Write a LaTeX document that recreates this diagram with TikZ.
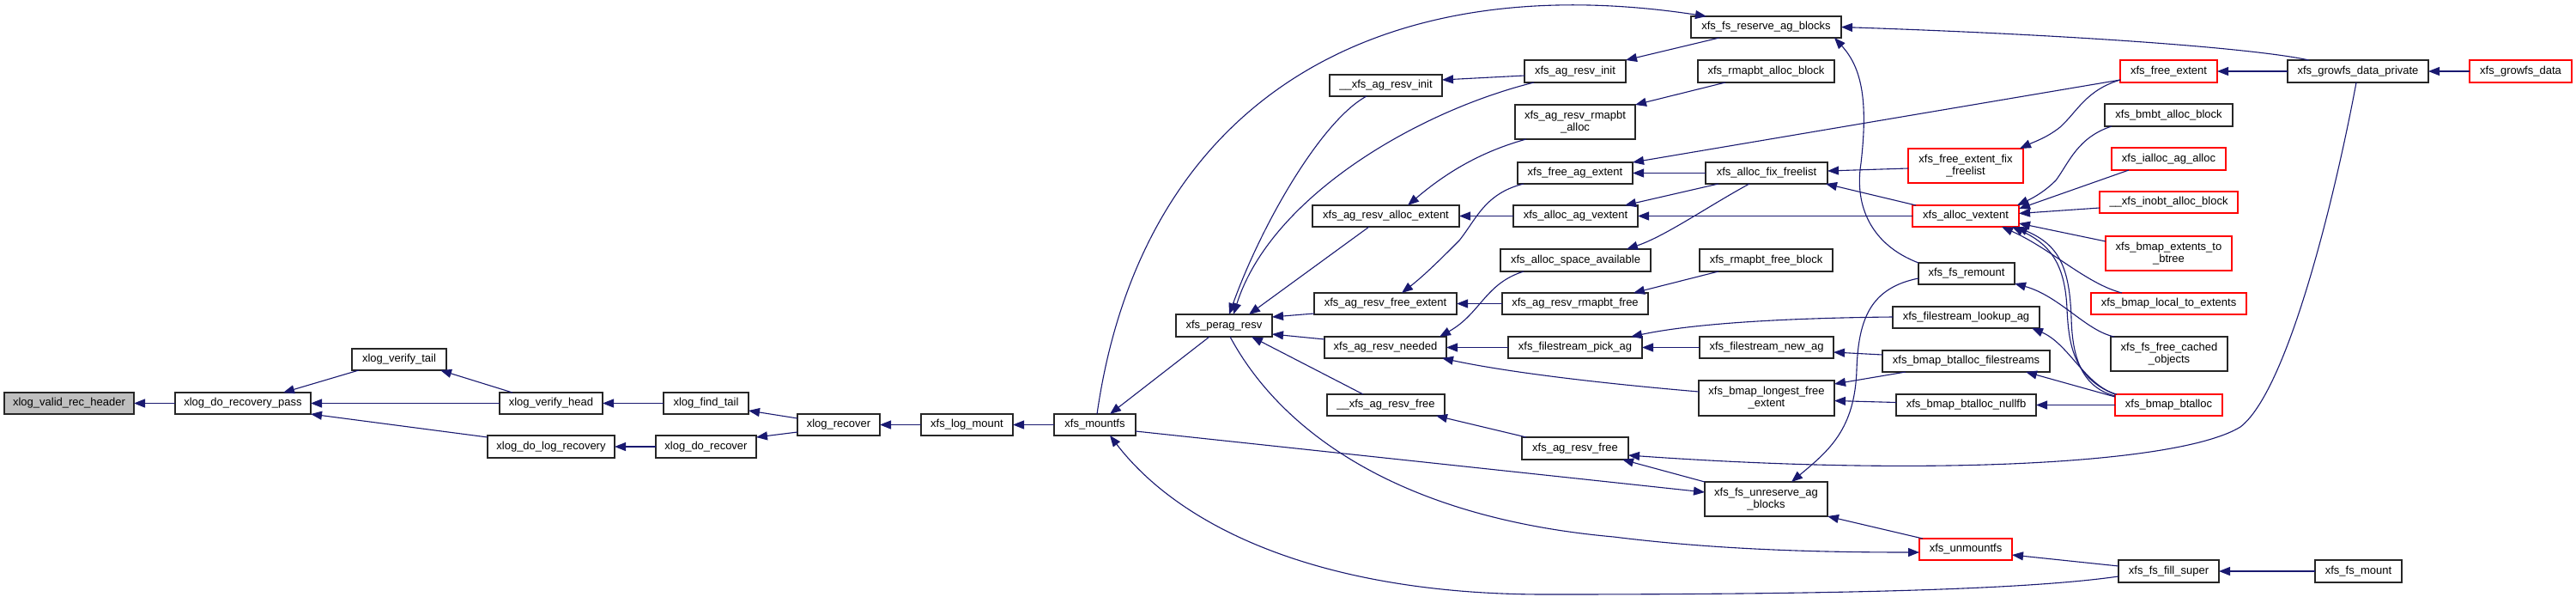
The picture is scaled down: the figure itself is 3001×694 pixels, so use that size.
\documentclass[tikz,border=0pt]{standalone}
\usepackage{fontspec}
\setmainfont{Liberation Sans}
\usetikzlibrary{arrows.meta}
\definecolor{navyb}{HTML}{191970}
\newcommand\nodefont{\fontsize{13}{14}\selectfont}
\newcommand\gn[7][]{\node[gbox,#1,minimum width={#4-#2},minimum height={#5-#3}] (#6) at ({(#2+#4)/2},{(#3+#5)/2}) {#7};}
\tikzset{
  gbox/.style={draw=black!85, fill=white, line width=1.1pt, inner sep=0pt, outer sep=0pt, font=\nodefont, align=center},
  rbox/.style={draw=red},
  edge/.style={draw=navyb, line width=1.1pt, -{Triangle[length=13pt,width=10pt]}}
}
\begin{document}
\begin{tikzpicture}[x=1pt,y=-1pt]
\fill[white] (0,0) rectangle (3001,694);
\useasboundingbox (0,0) rectangle (3001,694);
% nodes
\gn[fill=black!25]{5}{457}{156}{482}{vrh}{xlog\_valid\_rec\_header}
\gn{204}{457}{362}{482}{drp}{xlog\_do\_recovery\_pass}
\gn{410}{406}{520}{431}{vt}{xlog\_verify\_tail}
\gn{582}{457}{702}{482}{vh}{xlog\_verify\_head}
\gn{568}{507}{716}{533}{dlr}{xlog\_do\_log\_recovery}
\gn{773}{457}{872}{482}{ft}{xlog\_find\_tail}
\gn{764}{507}{881}{533}{dr}{xlog\_do\_recover}
\gn{929}{482}{1025}{507}{rec}{xlog\_recover}
\gn{1073}{482}{1180}{507}{lm}{xfs\_log\_mount}
\gn{1228}{482}{1323}{507}{mfs}{xfs\_mountfs}
\gn{1370}{366}{1482}{392}{pr}{xfs\_perag\_resv}
\gn{1970}{19}{2145}{44}{fsr}{xfs\_fs\_reserve\_ag\_blocks}
\gn{1549}{87}{1680}{112}{xari}{\_\_xfs\_ag\_resv\_init}
\gn{1776}{70}{1894}{96}{ari}{xfs\_ag\_resv\_init}
\gn{1978}{70}{2137}{96}{rab}{xfs\_rmapbt\_alloc\_block}
\gn{1765}{122}{1905}{162}{arra}{xfs\_ag\_resv\_rmapbt\\\_alloc}
\gn{1768}{189}{1902}{214}{fae}{xfs\_free\_ag\_extent}
\gn{1987}{189}{2129}{214}{aff}{xfs\_alloc\_fix\_freelist}
\gn{1529}{239}{1700}{264}{arae}{xfs\_ag\_resv\_alloc\_extent}
\gn{1763}{239}{1908}{264}{aav}{xfs\_alloc\_ag\_vextent}
\gn{1748}{290}{1923}{316}{asa}{xfs\_alloc\_space\_available}
\gn{1980}{290}{2135}{316}{rfb}{xfs\_rmapbt\_free\_block}
\gn{1531}{341}{1697}{366}{arfe}{xfs\_ag\_resv\_free\_extent}
\gn{1750}{341}{1920}{366}{arrf}{xfs\_ag\_resv\_rmapbt\_free}
\gn{1543}{392}{1685}{417}{arn}{xfs\_ag\_resv\_needed}
\gn{1757}{392}{1913}{417}{fpa}{xfs\_filestream\_pick\_ag}
\gn{1980}{392}{2136}{417}{fna}{xfs\_filestream\_new\_ag}
\gn{1979}{443}{2137}{484}{blfe}{xfs\_bmap\_longest\_free\\\_extent}
\gn{1546}{459}{1683}{484}{xarf}{\_\_xfs\_ag\_resv\_free}
\gn{1773}{509}{1897}{535}{arf}{xfs\_ag\_resv\_free}
\gn{1986}{561}{2129}{601}{fuab}{xfs\_fs\_unreserve\_ag\\\_blocks}
\gn[rbox]{2223}{173}{2357}{213}{fefl}{xfs\_free\_extent\_fix\\\_freelist}
\gn[rbox]{2228}{239}{2352}{264}{av}{xfs\_alloc\_vextent}
\gn{2235}{306}{2347}{331}{frm}{xfs\_fs\_remount}
\gn{2205}{357}{2376}{382}{fla}{xfs\_filestream\_lookup\_ag}
\gn{2193}{408}{2388}{433}{bbf}{xfs\_bmap\_btalloc\_filestreams}
\gn{2209}{459}{2372}{484}{bbn}{xfs\_bmap\_btalloc\_nullfb}
\gn[rbox]{2236}{627}{2344}{652}{um}{xfs\_unmountfs}
\gn[rbox]{2470}{70}{2583}{96}{fe}{xfs\_free\_extent}
\gn{2452}{121}{2601}{147}{bab}{xfs\_bmbt\_alloc\_block}
\gn[rbox]{2460}{172}{2593}{198}{iaa}{xfs\_ialloc\_ag\_alloc}
\gn[rbox]{2446}{223}{2607}{248}{iab}{\_\_xfs\_inobt\_alloc\_block}
\gn[rbox]{2453}{275}{2600}{315}{betb}{xfs\_bmap\_extents\_to\\\_btree}
\gn[rbox]{2436}{341}{2617}{366}{blte}{xfs\_bmap\_local\_to\_extents}
\gn{2459}{392}{2595}{432}{ffco}{xfs\_fs\_free\_cached\\\_objects}
\gn[rbox]{2464}{459}{2589}{484}{bba}{xfs\_bmap\_btalloc}
\gn{2468}{652}{2585}{678}{ffs}{xfs\_fs\_fill\_super}
\gn{2665}{70}{2829}{96}{gdp}{xfs\_growfs\_data\_private}
\gn[rbox]{2877}{70}{2996}{96}{gd}{xfs\_growfs\_data}
\gn{2697}{652}{2798}{678}{fm}{xfs\_fs\_mount}
% edges
\draw[edge] (drp.west) -- (vrh.east);
\draw[edge] ([xshift=8]vt.south west) -- ([xshift=126]drp.north west);
\draw[edge] (vh.west) -- (drp.east);
\draw[edge] ([yshift=-2]dlr.north west) -- (drp.south east);
\draw[edge] ([xshift=15]vh.north west) -- ([xshift=-7]vt.south east);
\draw[edge] (ft.west) -- (vh.east);
\draw[edge] (dr.west) -- (dlr.east);
\draw[edge] ([yshift=-5]rec.north west) -- ([yshift=4]ft.south east);
\draw[edge] ([yshift=4]rec.south west) -- ([yshift=-2]dr.north east);
\draw[edge] (lm.west) -- (rec.east);
\draw[edge] (mfs.west) -- (lm.east);
\draw[edge] ([xshift=39]pr.south west) -- ([xshift=65]mfs.north west);
\draw[edge] ([xshift=50]mfs.north west) .. controls (1330,120) and (1600,-40) .. ([xshift=18]fsr.north west);
\draw[edge] ([yshift=5]mfs.south east) -- ([yshift=-12]fuab.north west);
\draw[edge] ([yshift=7]ffs.south west) .. controls (2350,688) and (2100,692) .. (1800,692) .. controls (1550,692) and (1380,620) .. ([xshift=65]mfs.south west);
\draw[edge] ([xshift=63]pr.south west) .. controls (1480,480) and (1600,600) .. (1880,625) .. controls (2000,640) and (2120,643) .. ([yshift=-3.5]um.west);
\draw[edge] ([xshift=43]xari.south west) .. controls (1540,140) and (1470,260) .. ([xshift=62]pr.north west);
\draw[edge] ([xshift=11]ari.south west) .. controls (1650,130) and (1480,230) .. ([xshift=67]pr.north west);
\draw[edge] ([xshift=66]arae.south west) -- ([xshift=85]pr.north west);
\draw[edge] ([yshift=1]arfe.south west) -- ([yshift=-3]pr.north east);
\draw[edge] ([yshift=-3]arn.north west) -- ([yshift=3]pr.south east);
\draw[edge] ([xshift=42]xarf.north west) -- ([xshift=88]pr.south west);
\draw[edge] ([yshift=-18]ari.north west) -- ([yshift=-6]xari.north east);
\draw[edge] ([xshift=33]fsr.south west) -- (ari.north east);
\draw[edge] ([xshift=32]rab.south west) -- (arra.north east);
\draw[edge] ([xshift=13]arra.south west) .. controls (1720,178) and (1680,205) .. ([xshift=111]arae.north west);
\draw[edge] (aav.west) -- (arae.east);
\draw[edge] ([yshift=3]fe.south west) -- (fae.north east);
\draw[edge] (aff.west) -- (fae.east);
\draw[edge] ([xshift=7]fae.south west) .. controls (1730,225) and (1720,255) .. (1700,280) .. controls (1680,300) and (1660,320) .. ([xshift=102]arfe.north west);
\draw[edge] ([xshift=15]aff.south west) -- ([xshift=-15]aav.north east);
\draw[edge] (av.west) -- (aav.east);
\draw[edge] ([xshift=51]aff.south west) .. controls (1990,240) and (1940,275) .. ([xshift=-28]asa.north east);
\draw[edge] ([xshift=27]asa.south west) .. controls (1730,330) and (1725,365) .. ([xshift=-8]arn.north east);
\draw[edge] (arrf.west) -- (arfe.east);
\draw[edge] ([xshift=22]rfb.south west) -- ([xshift=-17]arrf.north east);
\draw[edge] (fpa.west) -- (arn.east);
\draw[edge] ([yshift=-12]fla.north west) .. controls (2100,370) and (1980,375) .. ([xshift=-13]fpa.north east);
\draw[edge] (fna.west) -- (fpa.east);
\draw[edge] ([yshift=-13]blfe.north west) .. controls (1850,445) and (1750,432) .. ([xshift=-5]arn.south east);
\draw[edge] ([xshift=5]arf.north west) -- ([xshift=-10]xarf.south east);
\draw[edge] ([xshift=80]gdp.south west) .. controls (2720,230) and (2665,455) .. (2610,497) .. controls (2540,540) and (2250,555) .. ([yshift=5]arf.south east);
\draw[edge] (fuab.north west) -- ([xshift=-7]arf.south east);
\draw[edge] ([xshift=25]gdp.north west) .. controls (2620,55) and (2400,40) .. (fsr.east);
\draw[edge] (frm.north west) .. controls (2180,285) and (2160,240) .. (2168,190) .. controls (2176,120) and (2170,80) .. ([xshift=-8]fsr.south east);
\draw[edge] ([yshift=-3]fefl.west) -- ([yshift=2.5]aff.east);
\draw[edge] ([yshift=3]fe.south west) .. controls (2430,105) and (2420,130) .. (2400,148) .. controls (2385,160) and (2370,165) .. ([xshift=-4]fefl.north east);
\draw[edge] ([xshift=4]av.north west) -- ([xshift=-2]aff.south east);
\draw[edge] ([xshift=8]bab.south west) .. controls (2420,160) and (2410,190) .. (2395,210) .. controls (2380,225) and (2365,232) .. ([xshift=-2]av.north east);
\draw[edge] ([xshift=20]iaa.south west) -- ([yshift=-4]av.north east);
\draw[edge] ([yshift=6]iab.south west) -- ([yshift=3]av.east);
\draw[edge] ([yshift=-6]betb.north west) -- ([yshift=4]av.south east);
\draw[edge] ([xshift=36]blte.north west) .. controls (2430,330) and (2390,290) .. ([xshift=-20]av.south east);
\draw[edge] (bba.north west) .. controls (2415,440) and (2410,400) .. (2408,360) .. controls (2406,310) and (2390,285) .. ([xshift=-8]av.south east);
\draw[edge] ([yshift=-2]bba.north west) .. controls (2422,450) and (2414,410) .. (2413,370) .. controls (2411,310) and (2398,285) .. ([xshift=-3]av.south east);
\draw[edge] ([xshift=4]ffco.north west) .. controls (2430,385) and (2400,345) .. ([yshift=1]frm.south east);
\draw[edge] ([xshift=2]bba.north west) .. controls (2430,450) and (2410,400) .. ([xshift=-9]fla.south east);
\draw[edge] ([yshift=-3]bba.north west) -- ([xshift=-28]bbf.south east);
\draw[edge] (bba.west) -- (bbn.east);
\draw[edge] ([xshift=27]bbf.south west) -- ([yshift=-4]blfe.north east);
\draw[edge] ([yshift=3]bbn.west) -- ([yshift=-3]blfe.east);
\draw[edge] ([yshift=7.5]bbf.west) -- ([yshift=-5.5]fna.east);
\draw[edge] ([yshift=-18]frm.north west) .. controls (2180,335) and (2165,370) .. (2163,430) .. controls (2161,500) and (2130,525) .. ([xshift=101]fuab.north west);
\draw[edge] ([xshift=4]um.north west) -- (fuab.south east);
\draw[edge] ([yshift=-7]ffs.north west) -- ([yshift=-6.5]um.east);
\draw[edge] (fm.west) -- (ffs.east);
\draw[edge] (gdp.west) -- (fe.east);
\draw[edge] (gd.west) -- (gdp.east);
\end{tikzpicture}
\end{document}
